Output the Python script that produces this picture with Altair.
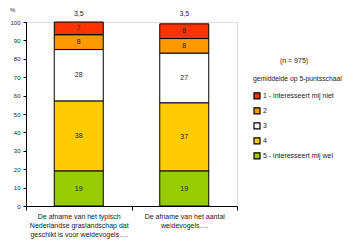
import altair as alt
import pandas as pd

cats = ["De afname van het typisch|Nederlandse graslandschap dat|geschikt is voor weidevogels….",
        "De afname van het aantal|weidevogels…."]
levels = ["1 - interesseert mij niet", "2", "3", "4", "5 - interesseert mij wel"]
codes = [1, 2, 3, 4, 5]
bar1 = [7, 8, 28, 38, 19]
bar2 = [8, 8, 27, 37, 19]
means = ["3,5", "3,5"]
colors = ["#FF3300", "#FF9900", "#FFFFFF", "#FFCC00", "#99CC00"]
n_text = "(n = 975)"
yticks = [0, 10, 20, 30, 40, 50, 60, 70, 80, 90, 100]

rows = []
for c, vals in zip(cats, [bar1, bar2]):
    for lev, k, v in zip(levels, codes, vals):
        rows.append({"cat": c, "level": lev, "k": k, "v": v})
df = pd.DataFrame(rows)
mdf = pd.DataFrame({"cat": cats, "mean": means, "top": [100, 100]})

FONT = "Liberation Sans"
W, H = 211, 184

xaxis = alt.Axis(labelExpr="split(datum.label, '|')", labelAngle=0,
                 labelFontSize=7, labelLineHeight=9, labelPadding=2,
                 tickBand="extent", tickSize=4, domainColor="black",
                 tickColor="black", labelColor="#222", labelFont=FONT)
yaxis = alt.Axis(values=yticks, labelFontSize=6, tickSize=3,
                 labelPadding=3, domainColor="black", tickColor="black",
                 labelColor="#222", labelFont=FONT, grid=False,
                 labelOverlap=False, labelFlush=False)
xscale = alt.Scale(paddingInner=0, paddingOuter=0)
yscale = alt.Scale(domain=[0, 100], nice=False)

bars = alt.Chart(df).mark_bar(size=49, stroke="black", strokeWidth=1).encode(
    x=alt.X("cat:N", sort=cats, title=None, scale=xscale, axis=xaxis),
    y=alt.Y("v:Q", stack="zero", scale=yscale, title=None, axis=yaxis),
    color=alt.Color("level:N", sort=levels,
                    scale=alt.Scale(domain=levels, range=colors),
                    legend=alt.Legend(title="gemiddelde op 5-puntsschaal", orient="none",
                                      legendX=227, legendY=54, symbolType="square",
                                      symbolSize=36, symbolStrokeColor="black",
                                      symbolStrokeWidth=1.2, labelFontSize=7,
                                      labelFont=FONT, titleFont=FONT, titleFontSize=6.8,
                                      titleFontWeight="normal", titleColor="#222",
                                      titleLimit=300, labelLimit=300,
                                      labelColor="#222", rowPadding=3, titlePadding=9,
                                      labelOffset=2)),
    order=alt.Order("k:Q", sort="descending"),
)

labels = alt.Chart(df).transform_stack(
    stack="v", groupby=["cat"], sort=[alt.SortField("k", order="descending")], as_=["y0", "y1"]
).transform_calculate(mid="(datum.y0 + datum.y1) / 2").mark_text(
    fontSize=7, font=FONT, color="#222"
).encode(x=alt.X("cat:N", sort=cats, title=None, scale=xscale, axis=xaxis),
         y=alt.Y("mid:Q", scale=yscale, title=None, axis=yaxis), text="v:Q")

tops = alt.Chart(mdf).mark_text(fontSize=7, font=FONT, color="#222", dy=-8).encode(
    x=alt.X("cat:N", sort=cats, title=None, scale=xscale, axis=xaxis),
    y=alt.Y("top:Q", scale=yscale, title=None, axis=yaxis), text="mean:N")

pct = alt.Chart(pd.DataFrame({"t": ["%"]})).mark_text(
    fontSize=6, font=FONT, color="#222", align="left").encode(
    x=alt.value(-16), y=alt.value(-12), text="t:N")

ntext = alt.Chart(pd.DataFrame({"t": [n_text]})).mark_text(
    fontSize=7, font=FONT, color="#222", align="center").encode(
    x=alt.value(268), y=alt.value(39), text="t:N")

chart = alt.layer(bars, labels, tops, pct, ntext).properties(
    width=W, height=H,
    autosize=alt.AutoSizeParams(type="none"),
    padding={"left": 18, "top": 14, "right": 108, "bottom": 35},
).configure_view(stroke=None).configure(background="white")

chart.save("out.html", embed_options={"renderer": "svg", "actions": False})
